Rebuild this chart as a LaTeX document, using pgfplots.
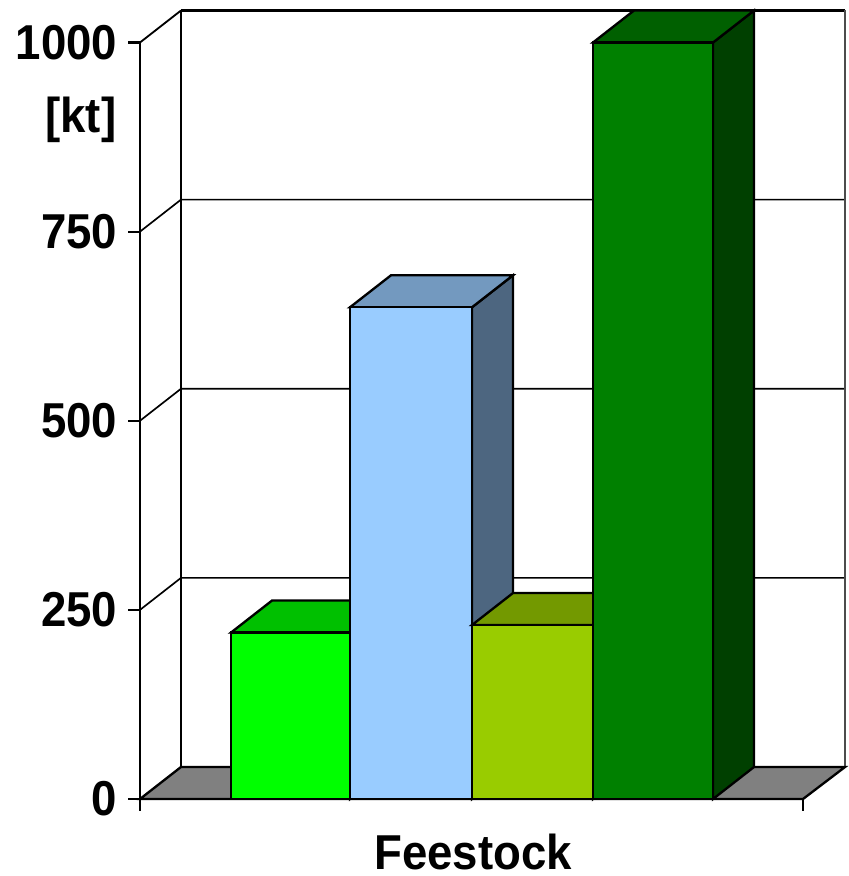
\documentclass[border=0pt]{standalone}
\usepackage{fontspec}
\setmainfont{Liberation Sans}[FakeStretch=0.93]
\usepackage{pgfplots}
\pgfplotsset{compat=1.18}

% face colours: front, top (shaded), side (darker)
\definecolor{gAfront}{HTML}{00FF00}\definecolor{gAtop}{HTML}{00C000}\definecolor{gAside}{HTML}{008000}
\definecolor{bBfront}{HTML}{99CCFF}\definecolor{bBtop}{HTML}{7399BF}\definecolor{bBside}{HTML}{4D6680}
\definecolor{yCfront}{HTML}{99CC00}\definecolor{yCtop}{HTML}{739900}\definecolor{yCside}{HTML}{4D6600}
\definecolor{dDfront}{HTML}{008000}\definecolor{dDtop}{HTML}{006000}\definecolor{dDside}{HTML}{004000}
\definecolor{floorgray}{HTML}{808080}

\newcommand\lbl{\fontsize{14.7}{17}\selectfont\bfseries}

\begin{document}
\begin{tikzpicture}
\begin{axis}[
  x=0.3pt, y=0.22695pt,
  xmin=140, xmax=845, ymin=0, ymax=1042.3,
  clip=false,
  axis line style={draw=none},
  tick pos=left,
  tick align=outside,
  major tick length=3.6pt,
  tick style={black, line width=0.65pt},
  ytick={0,250,500,750,1000},
  xtick={140,803}, xticklabels={},
  /pgf/number format/assume math mode=true,
  /pgf/number format/1000 sep={},
  yticklabel style={font=\lbl, anchor=east, inner sep=0pt, xshift=-3pt},
  xlabel={Feestock},
  xlabel style={font=\lbl, at={(axis description cs:0.4723,-0.0672)}, anchor=center},
  faces/.style={draw=black, line width=0.7pt, line join=miter},
]
% page corners
\coordinate (pagebl) at (axis cs:0,-101.8);
\coordinate (pagetr) at (axis cs:848,1056.2);

% back wall and gridlines
\addplot[black, line width=0.5pt] coordinates {(140,250) (181,292.3) (845,292.3)};
\addplot[black, line width=0.5pt] coordinates {(140,500) (181,542.3) (845,542.3)};
\addplot[black, line width=0.5pt] coordinates {(140,750) (181,792.3) (845,792.3)};
\addplot[black, line width=0.55pt] coordinates {(140,1000) (181,1042.3)};
\addplot[black, line width=0.8pt] coordinates {(181,1042.3) (845,1042.3)};
\addplot[black, line width=0.65pt] coordinates {(181,42.3) (181,1042.3)};
\addplot[black!70, line width=0.5pt] coordinates {(845,42.3) (845,1042.3)};

% floor
\addplot[fill=floorgray, faces] coordinates {(140,0) (181,42.3) (845,42.3) (803,0)} --cycle;

% front value axis
\addplot[black, line width=0.65pt] coordinates {(140,0) (140,1000)};

% bar 1: 220
\addplot[fill=gAside, faces] coordinates {(350,0) (391,42.3) (391,262.3) (350,220)} --cycle;
\addplot[fill=gAtop, faces] coordinates {(231,220) (272,262.3) (391,262.3) (350,220)} --cycle;
\addplot[fill=gAfront, faces] coordinates {(231,0) (231,220) (350,220) (350,0)} --cycle;

% bar 2: 650
\addplot[fill=bBside, faces] coordinates {(472,0) (513,42.3) (513,692.3) (472,650)} --cycle;
\addplot[fill=bBtop, faces] coordinates {(350,650) (391,692.3) (513,692.3) (472,650)} --cycle;
\addplot[fill=bBfront, faces] coordinates {(350,0) (350,650) (472,650) (472,0)} --cycle;

% bar 3: 230
\addplot[fill=yCside, faces] coordinates {(593,0) (634,42.3) (634,272.3) (593,230)} --cycle;
\addplot[fill=yCtop, faces] coordinates {(472,230) (513,272.3) (634,272.3) (593,230)} --cycle;
\addplot[fill=yCfront, faces] coordinates {(472,0) (472,230) (593,230) (593,0)} --cycle;

% bar 4: 1000
\addplot[fill=dDside, faces] coordinates {(713,0) (754,42.3) (754,1042.3) (713,1000)} --cycle;
\addplot[fill=dDtop, faces] coordinates {(593,1000) (634,1042.3) (754,1042.3) (713,1000)} --cycle;
\addplot[fill=dDfront, faces] coordinates {(593,0) (593,1000) (713,1000) (713,0)} --cycle;

% unit label
\node[font=\lbl, anchor=east, inner sep=0pt] at (axis cs:117,897.6) {[kt]};
\end{axis}
\pgfresetboundingbox
\useasboundingbox (pagebl) rectangle (pagetr);
\end{tikzpicture}
\end{document}
